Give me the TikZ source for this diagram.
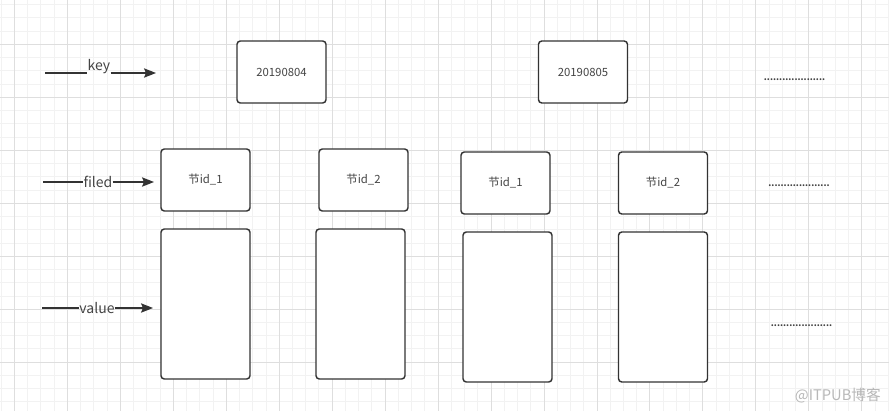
\documentclass[tikz,border=0pt]{standalone}
\usepackage{fontspec}
\setmainfont{Noto Sans CJK SC}
\usepackage{tikz}
\usetikzlibrary{arrows.meta}
\usetikzlibrary{positioning}
\definecolor{boxline}{HTML}{333333}
\definecolor{txtgray}{HTML}{444444}
\definecolor{gridmin}{HTML}{F2F2F2}
\definecolor{gridmaj}{HTML}{DEDEDE}
\tikzset{
    cell/.style={
           rectangle,
           rounded corners=2.5pt,
           draw=boxline, line width=1.1pt,
           fill=white,
           minimum width=66.75pt,
           minimum height=46.5pt,
           inner sep=0pt,
           text=txtgray,
           font=\fontsize{8.5}{10}\selectfont,
           },
    tallcell/.style={cell, minimum height=112.5pt},
    rowlabel/.style={inner sep=0pt, text=txtgray, font=\fontsize{10.5}{12}\selectfont},
    ellip/.style={inner sep=0pt, text=black!75, font=\fontsize{6.5}{7}\bfseries\selectfont},
    link/.style={draw=boxline, line width=0.9pt},
}
\newcommand{\dotrow}{\hbox to 46pt{\xleaders\hbox to 2.25pt{\hss.\hss}\hfill}}

\begin{document}
\begin{tikzpicture}[x=0.75pt,y=-0.75pt,>={Stealth[length=9pt,width=7pt,inset=1.5pt]}]
 \useasboundingbox (0,0) rectangle (889,411);
 \fill[white] (0,0) rectangle (889,411);

 % background grid
 \foreach \i in {0,...,67} {
   \draw[gridmin, line width=0.5pt] ({1.06+13.24*\i},0) -- ({1.06+13.24*\i},411);
 }
 \foreach \i in {0,...,31} {
   \draw[gridmin, line width=0.5pt] (0,{4.58+13.24*\i}) -- (889,{4.58+13.24*\i});
 }
 \foreach \i in {0,...,16} {
   \draw[gridmaj, line width=0.5pt] ({14.3+52.96*\i},0) -- ({14.3+52.96*\i},411);
 }
 \foreach \i in {-1,...,7} {
   \draw[gridmaj, line width=0.5pt] (0,{44.3+52.96*\i}) -- (889,{44.3+52.96*\i});
 }

 % key row
 \node[cell] (K1) at (281.5,72) {20190804};
 \node[cell] (K2) at (583,72) {20190805};

 % filed row
 \node[cell] (F1) at (205.5,180) {节id\_1};
 \node[cell] (F2) at (363.5,180) {节id\_2};
 \node[cell] (F3) at (505.5,183) {节id\_1};
 \node[cell] (F4) at (663,183) {节id\_2};

 % value row
 \node[tallcell] (V1) at (205.5,304) {};
 \node[tallcell] (V2) at (360.5,304) {};
 \node[tallcell] (V3) at (507.5,307) {};
 \node[tallcell] (V4) at (663,307) {};

 % row labels with their arrows
 \coordinate (keyS) at (45,73);
 \coordinate (keyE) at (156,73);
 \node[rowlabel] (keyL) at (99,67) {key};
 \coordinate (filS) at (43,182);
 \coordinate (filE) at (154,182);
 \node[rowlabel] (filL) at (98,182) {filed};
 \coordinate (valS) at (42,308);
 \coordinate (valE) at (153,308);
 \node[rowlabel] (valL) at (97,308) {value};

 \path[link] (keyS) -- (keyL.west |- keyS);
 \path[link,->] (keyL.east |- keyE) -- (keyE);
 \path[link] (filS) -- (filL.west |- filS);
 \path[link,->] (filL.east |- filE) -- (filE);
 \path[link] (valS) -- (valL.west |- valS);
 \path[link,->] (valL.east |- valE) -- (valE);

 % more columns follow
 \node[ellip] (moreK) at (794.5,80) {\dotrow};
 \node[ellip] (moreF) at (799,186) {\dotrow};
 \node[ellip] (moreV) at (801.5,326) {\dotrow};

 % watermark
 \node[inner sep=0pt, anchor=east, text=black!28, font=\fontsize{11}{13}\selectfont] (mark) at (881,396) {@ITPUB博客};
\end{tikzpicture}
\end{document}
